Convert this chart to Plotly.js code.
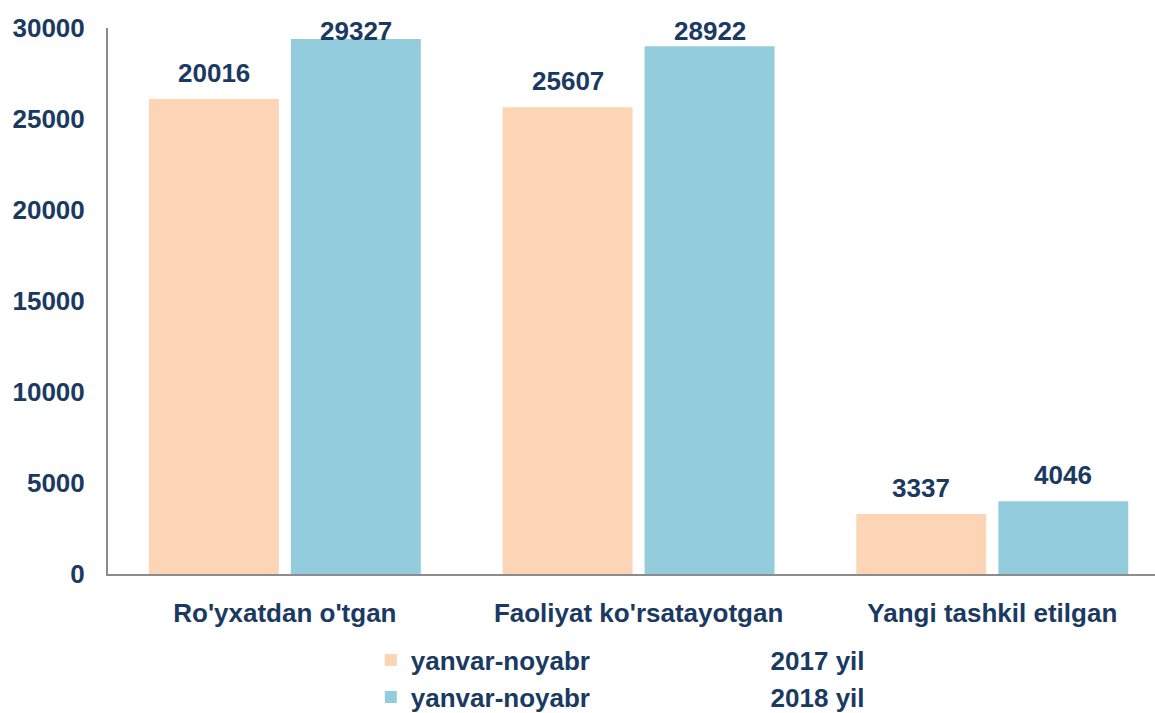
<!DOCTYPE html>
<html>
<head>
<meta charset="utf-8">
<script src="https://cdn.plot.ly/plotly-3.0.1.min.js"></script>
<style>html,body{margin:0;padding:0;background:#fff;}#chart{width:1155px;height:713px;}</style>
</head>
<body>
<div id="chart"></div>
<script>
const categories = ["Ro'yxatdan o'tgan", "Faoliyat ko'rsatayotgan", "Yangi tashkil etilgan"];
const values2017 = [26100, 25650, 3300];
const values2018 = [29400, 29000, 4000];
const labels2017 = ["20016", "25607", "3337"];
const labels2018 = ["29327", "28922", "4046"];
const seriesNames = ["yanvar-noyabr", "yanvar-noyabr"];
const seriesYears = ["2017 yil", "2018 yil"];
const yTicks = [0, 5000, 10000, 15000, 20000, 25000, 30000];

const textColor = "#1B3A61";
const fontFam = "Liberation Sans, Arial, sans-serif";
const fs = 26;
const gap = "\u00a0".repeat(25);

const bargap = 0.197, bargroupgap = 0.085;
const half = (1 - bargap) / 4;

const traces = [
  {type: "bar", x: categories, y: values2017, name: seriesNames[0] + gap + seriesYears[0],
   marker: {color: "#FBD5B5"}, hoverinfo: "none"},
  {type: "bar", x: categories, y: values2018, name: seriesNames[1] + gap + seriesYears[1],
   marker: {color: "#93CDDD"}, hoverinfo: "none"}
];

const labelCap = 28400;
const annotations = [];
[[values2017, labels2017, -half], [values2018, labels2018, half]].forEach(([vals, labs, off]) => {
  vals.forEach((v, i) => {
    annotations.push({
      x: i + off, y: Math.min(v, labelCap), xref: "x", yref: "y",
      text: labs[i], showarrow: false, yanchor: "bottom", yshift: 9,
      font: {family: fontFam, size: fs, color: textColor, weight: "bold"}
    });
  });
});

const layout = {
  width: 1155, height: 713,
  margin: {l: 108, r: 0, t: 28, b: 139, autoexpand: false},
  paper_bgcolor: "#fff", plot_bgcolor: "#fff",
  barmode: "group", bargap: bargap, bargroupgap: bargroupgap,
  showlegend: true,
  legend: {
    x: 0.251, xanchor: "left", xref: "paper",
    y: 0.107, yanchor: "top", yref: "container",
    orientation: "v", traceorder: "normal",
    font: {family: fontFam, size: fs, color: textColor, weight: "bold"},
    bgcolor: "rgba(0,0,0,0)"
  },
  xaxis: {
    type: "category", range: [-0.5, 2.46],
    showline: true, linecolor: "#8C8C8C", linewidth: 2,
    showgrid: false, zeroline: false, ticks: "",
    ticklabelstandoff: 15,
    tickfont: {family: fontFam, size: fs, color: textColor, weight: "bold"}
  },
  yaxis: {
    range: [0, 30000], tickvals: yTicks, ticktext: yTicks.map(String),
    showline: true, linecolor: "#8C8C8C", linewidth: 2,
    showgrid: false, zeroline: false, ticks: "",
    ticklabelstandoff: 16,
    tickfont: {family: fontFam, size: fs, color: textColor, weight: "bold"}
  },
  annotations: annotations,
  font: {family: fontFam, color: textColor}
};

Plotly.newPlot("chart", traces, layout, {displayModeBar: false, staticPlot: true});
</script>
</body>
</html>
